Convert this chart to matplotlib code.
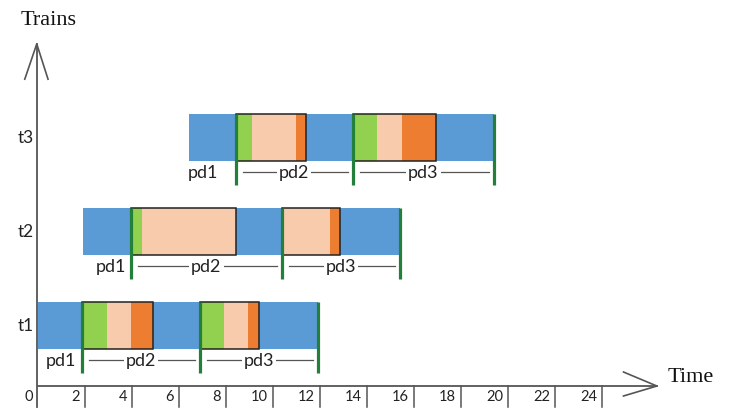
import matplotlib
matplotlib.use("Agg")
import matplotlib.pyplot as plt
from matplotlib.patches import Rectangle

# ---------------- data ----------------
trains = ["t1", "t2", "t3"]
# period boundaries: [pd1 start, pd2 start, pd3 start, end]
bounds = {
    "t1": [0.0, 1.9, 6.9, 11.93],
    "t2": [1.94, 3.96, 10.4, 15.42],
    "t3": [6.45, 8.42, 13.4, 19.42],
}
# phase ends within pd2 / pd3: [green end, peach end, orange end]
pd2_phases = {
    "t1": [2.95, 3.97, 4.92],
    "t2": [4.43, 8.44, 8.44],
    "t3": [9.1, 11.0, 11.42],
}
pd3_phases = {
    "t1": [7.93, 8.96, 9.43],
    "t2": [10.4, 12.44, 12.87],
    "t3": [14.43, 15.49, 16.94],
}
period_labels = ["pd1", "pd2", "pd3"]
xticks = list(range(0, 26, 2))
xlabel = "Time"
ylabel = "Trains"

# ---------------- style ----------------
BLUE = "#5B9BD5"
GREEN = "#92D050"
PEACH = "#F8CBAD"
ORANGE = "#ED7D31"
DKGREEN = "#23803A"
AXC = "#555555"
SANS = ["Lato", "DejaVu Sans"]
SERIF = ["Liberation Serif", "DejaVu Serif"]
pd1_nudge = {"t1": 0.05, "t2": 0.15, "t3": -0.4}

fig = plt.figure(figsize=(7.41, 4.14), dpi=100)
ax = fig.add_axes([0, 0, 1, 1])
ax.set_xlim(-1.604, 29.93)
ax.set_ylim(0.069, 4.473)
ax.axis("off")

H = 0.5  # bar height
for i, tr in enumerate(trains):
    y = i + 1
    b = bounds[tr]
    # blue base
    ax.broken_barh([(b[0], b[3] - b[0])], (y - H / 2, H), facecolors=BLUE, linewidth=0)
    for start, ph in ((b[1], pd2_phases[tr]), (b[2], pd3_phases[tr])):
        g, p, o = ph
        if g > start:
            ax.broken_barh([(start, g - start)], (y - H / 2, H), facecolors=GREEN, linewidth=0)
        if p > g:
            ax.broken_barh([(g, p - g)], (y - H / 2, H), facecolors=PEACH, linewidth=0)
        if o > p:
            ax.broken_barh([(p, o - p)], (y - H / 2, H), facecolors=ORANGE, linewidth=0)
        ax.add_patch(Rectangle((start, y - H / 2), o - start, H, fill=False,
                               edgecolor="#222222", linewidth=1.1, zorder=3))
    # green separators
    for xv in (b[1], b[2], b[3]):
        ax.plot([xv, xv], [y + H / 2, y - 0.51], color=DKGREEN, lw=2.3,
                solid_capstyle="butt", zorder=4)
    # period labels
    ly = y - 0.37
    for k in range(3):
        s, e = b[k], b[k + 1]
        mid = (s + e) / 2
        if k == 0:
            mid += pd1_nudge[tr]
        if k > 0:
            ax.plot([s + 0.3, e - 0.2], [ly, ly], color="#555555", lw=0.9, zorder=2)
        ax.text(mid, ly, period_labels[k], ha="center", va="center",
                fontsize=13, family=SANS, color="#222222", zorder=5,
                bbox=dict(facecolor="white", edgecolor="none", pad=1.5))
    # row label
    ax.text(-0.5, y + 0.01, tr, ha="center", va="center", fontsize=12.5,
            family=SANS, color="#222222")

# axes
x_axis_y = 0.356
ax.plot([0, 26.35], [x_axis_y, x_axis_y], color=AXC, lw=1.3)
ax.plot([24.93, 26.35, 24.93], [0.505, x_axis_y, 0.25], color=AXC, lw=1.2)
ax.plot([-0.04, -0.04], [0.133, 3.995], color=AXC, lw=1.3)
ax.plot([-0.55, -0.04, 0.44], [3.62, 3.995, 3.62], color=AXC, lw=1.2)
for t in xticks:
    if t > 0:
        ax.plot([t, t], [x_axis_y, 0.133], color=AXC, lw=1.1)
    ax.text(t - 0.2, 0.245, str(t), ha="right", va="center", fontsize=10.5,
            family=SANS, color="#222222")

ax.text(26.8, 0.455, xlabel, ha="left", va="center", fontsize=16,
        family=SERIF, color="#111111")
ax.text(-0.75, 4.25, ylabel, ha="left", va="center", fontsize=16,
        family=SERIF, color="#111111")

fig.savefig("out.png", dpi=100)
